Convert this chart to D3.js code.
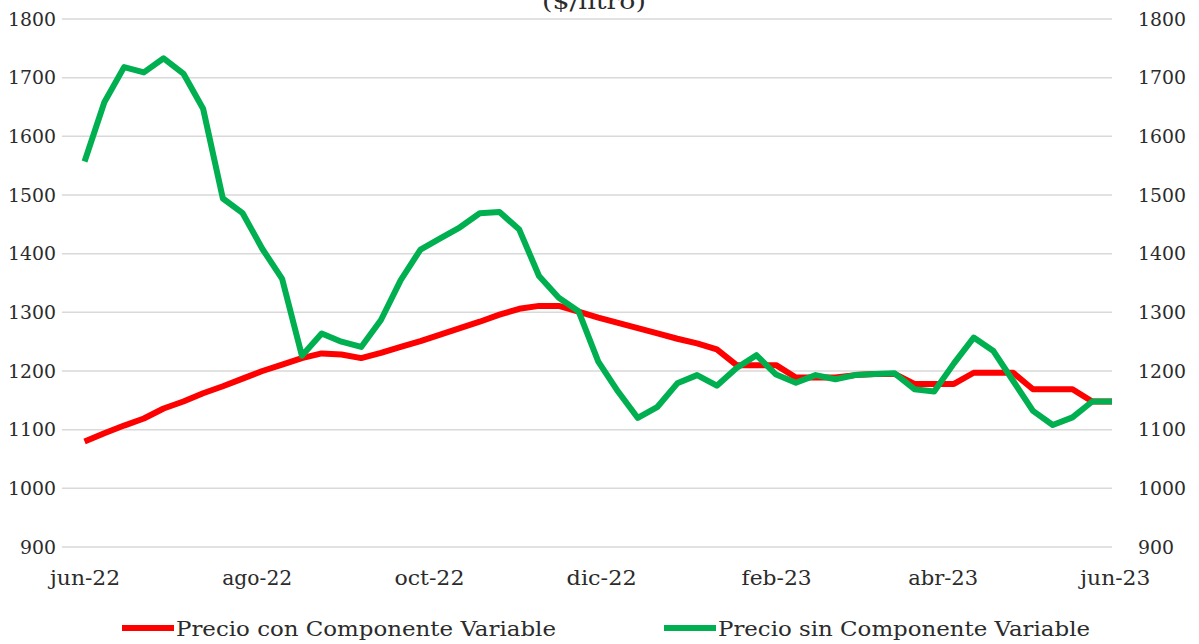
<!DOCTYPE html>
<html>
<head>
<meta charset="utf-8">
<script src="https://cdn.jsdelivr.net/npm/d3@7"></script>
<style>
  html, body { margin: 0; padding: 0; background: #fff; }
  svg { display: block; }
  svg text { font-family: "DejaVu Serif", "Liberation Serif", serif; }
</style>
</head>
<body>
<svg id="chart" width="1199" height="644"></svg>
<script>
const dates = [
  "2022-06-01","2022-06-08","2022-06-15","2022-06-22","2022-06-29",
  "2022-07-06","2022-07-13","2022-07-20","2022-07-27",
  "2022-08-03","2022-08-10","2022-08-17","2022-08-24","2022-08-31",
  "2022-09-07","2022-09-14","2022-09-21","2022-09-28",
  "2022-10-05","2022-10-12","2022-10-19","2022-10-26",
  "2022-11-02","2022-11-09","2022-11-16","2022-11-23","2022-11-30",
  "2022-12-07","2022-12-14","2022-12-21","2022-12-28",
  "2023-01-04","2023-01-11","2023-01-18","2023-01-25",
  "2023-02-01","2023-02-08","2023-02-15","2023-02-22",
  "2023-03-01","2023-03-08","2023-03-15","2023-03-22","2023-03-29",
  "2023-04-05","2023-04-12","2023-04-19","2023-04-26",
  "2023-05-03","2023-05-10","2023-05-17","2023-05-24","2023-05-31"
];
const precioCon = [
  1080,1094,1107,1119,1136,1148,1162,1174,1187,1200,1211,1222,1230,1228,1222,
  1231,1241,1251,1262,1273,1284,1296,1306,1311,1311,1301,1291,1282,1273,1264,
  1255,1247,1237,1210,1210,1210,1189,1189,1189,1193,1195,1195,1178,1178,1178,
  1197,1197,1197,1169,1169,1169,1148,1148
];
const precioSin = [
  1557,1658,1718,1709,1733,1707,1647,1494,1469,1408,1357,1226,1264,1250,1241,
  1287,1355,1407,1426,1445,1469,1471,1441,1362,1325,1302,1216,1165,1120,1139,
  1179,1193,1175,1205,1227,1194,1180,1193,1186,1193,1195,1196,1169,1165,1213,
  1257,1234,1183,1132,1108,1121,1148,1148
];
const xTickDates = ["2022-06-01","2022-08-01","2022-10-01","2022-12-01","2023-02-01","2023-04-01","2023-06-01"];
const xTickLabels = ["jun-22","ago-22","oct-22","dic-22","feb-23","abr-23","jun-23"];
const yTicks = [900,1000,1100,1200,1300,1400,1500,1600,1700,1800];
const seriesNames = ["Precio con Componente Variable","Precio sin Componente Variable"];
const seriesColors = ["#ff0000","#00b050"];
const title = "($/litro)";

const parse = d3.utcParse("%Y-%m-%d");
const dts = dates.map(parse);
const tickDts = xTickDates.map(parse);

const svg = d3.select("#chart");
const plotL = 62, plotR = 1112, plotT = 19, plotB = 547;
const fontFam = "'DejaVu Serif', 'Liberation Serif', serif";
const textCol = "#2b2b2b";

const x = d3.scaleUtc()
  .domain([d3.utcDay.offset(dts[0], -8), dts[dts.length - 1]])
  .range([plotL, plotR]);
const y = d3.scaleLinear().domain([900, 1800]).range([plotB, plotT]);

// title (partially cut off at top, as in the original)
svg.append("text").attr("x", 594).attr("y", 9)
  .attr("text-anchor", "middle").attr("font-size", 22).attr("fill", textCol)
  .style("font-family", fontFam)
  .attr("textLength", 104).attr("lengthAdjust", "spacingAndGlyphs")
  .text(title);

// gridlines
svg.append("g").selectAll("line").data(yTicks).join("line")
  .attr("x1", plotL).attr("x2", plotR)
  .attr("y1", d => y(d)).attr("y2", d => y(d))
  .attr("stroke", "#d9d9d9").attr("stroke-width", 1.5);

// left axis
const yl = svg.append("g").attr("transform", `translate(${plotL},0)`)
  .call(d3.axisLeft(y).tickValues(yTicks).tickSize(0).tickPadding(6).tickFormat(d3.format("d")));
yl.select(".domain").remove();
yl.selectAll("text").attr("font-size", 19).attr("fill", textCol).style("font-family", fontFam)
  .attr("textLength", d => String(d).length * 12).attr("lengthAdjust", "spacingAndGlyphs");

// right axis
const yr = svg.append("g").attr("transform", `translate(${plotR},0)`)
  .call(d3.axisRight(y).tickValues(yTicks).tickSize(0).tickPadding(26).tickFormat(d3.format("d")));
yr.select(".domain").remove();
yr.selectAll("text").attr("font-size", 19).attr("fill", textCol).style("font-family", fontFam)
  .attr("textLength", d => String(d).length * 12).attr("lengthAdjust", "spacingAndGlyphs");

// x axis
const xa = svg.append("g").attr("transform", `translate(0,${plotB})`)
  .call(d3.axisBottom(x).tickValues(tickDts).tickSize(0).tickPadding(24)
    .tickFormat((d, i) => xTickLabels[i]));
xa.select(".domain").remove();
xa.selectAll("text").attr("font-size", 20).attr("fill", textCol)
  .style("font-family", fontFam)
  .attr("textLength", 70).attr("lengthAdjust", "spacingAndGlyphs");

// lines
const line = d3.line().x((d, i) => x(dts[i])).y(d => y(d));
[precioCon, precioSin].forEach((s, k) => {
  svg.append("path").datum(s)
    .attr("fill", "none").attr("stroke", seriesColors[k])
    .attr("stroke-width", 6).attr("stroke-linejoin", "round")
    .attr("d", line);
});

// legend
const legendX = [122, 664];
const lg = svg.append("g");
seriesNames.forEach((n, k) => {
  lg.append("line").attr("x1", legendX[k]).attr("x2", legendX[k] + 52)
    .attr("y1", 628).attr("y2", 628)
    .attr("stroke", seriesColors[k]).attr("stroke-width", 6);
  lg.append("text").attr("x", legendX[k] + 54).attr("y", 636)
    .attr("font-size", 21).attr("fill", textCol).style("font-family", fontFam)
    .attr("textLength", k === 0 ? 380 : 372).attr("lengthAdjust", "spacingAndGlyphs")
    .text(n);
});
</script>
</body>
</html>
